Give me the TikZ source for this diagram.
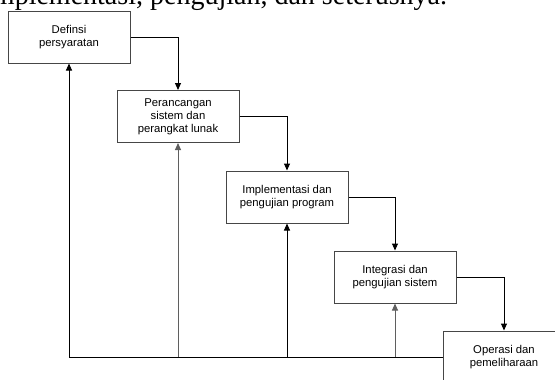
\documentclass[tikz,border=0pt]{standalone}
\usepackage{fontspec}
\setmainfont{Liberation Sans}
\newfontfamily\docserif{Liberation Serif}
\usetikzlibrary{arrows.meta}
\definecolor{edgegray}{RGB}{70,70,70}
\definecolor{linegray}{RGB}{95,95,95}
\tikzset{
  stepbox/.style={draw=edgegray, line width=1pt, minimum width=122pt, minimum height=52pt,
    inner sep=0pt, align=center, font=\fontsize{11.3}{13}\selectfont},
  flow/.style={line width=1pt, -{Triangle[length=7pt,width=6pt]}},
  back/.style={line width=1pt},
}
\begin{document}
\begin{tikzpicture}[x=1pt,y=-1pt]
\useasboundingbox (0,0) rectangle (555,380);
\clip (0,0) rectangle (555,380);
\node[anchor=base west, inner sep=0pt, font=\docserif\fontsize{28}{30}\selectfont] (doc) at (-15,5) {implementasi, pengujian, dan seterusnya.};
\node[stepbox] (b1) at (69,37) {Definsi\\persyaratan};
\node[stepbox] (b2) at (178,116.5) {Perancangan\\sistem dan\\perangkat lunak};
\node[stepbox] (b3) at (287,197) {Implementasi dan\\pengujian program};
\node[stepbox] (b4) at (395,277) {Integrasi dan\\pengujian sistem};
\node[stepbox] (b5) at (504,357) {Operasi dan\\pemeliharaan};
\draw[flow] (b1.east) -| (b2.north);
\draw[flow] (b2.east) -| (b3.north);
\draw[flow] (b3.east) -| (b4.north);
\draw[flow] (b4.east) -| (b5.north);
\coordinate (c1) at (b1.south |- b5.west);
\coordinate (c2) at (b2.south |- b5.west);
\coordinate (c3) at (b3.south |- b5.west);
\coordinate (c4) at (b4.south |- b5.west);
\draw[back] (b5.west) -- (c1);
\draw[flow] (c1) -- (b1.south);
\draw[flow, draw=linegray] (c2) -- (b2.south);
\draw[flow] (c3) -- (b3.south);
\draw[flow, draw=linegray] (c4) -- (b4.south);
\end{tikzpicture}
\end{document}
